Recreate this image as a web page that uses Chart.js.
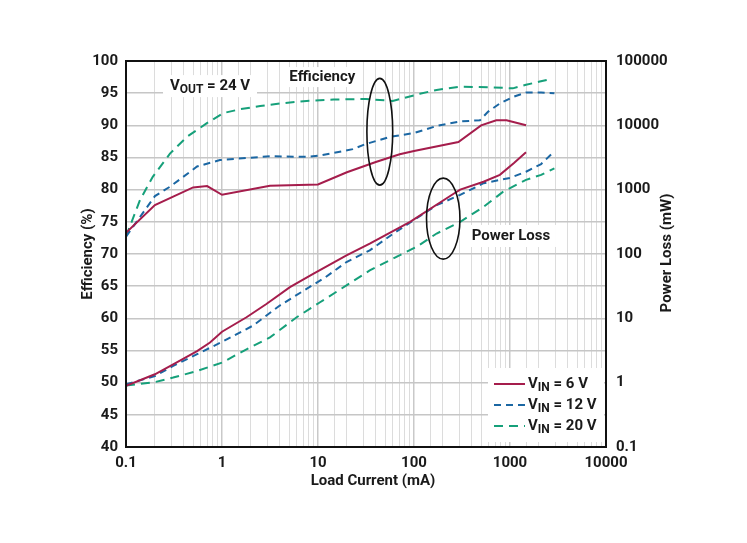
<!DOCTYPE html>
<html>
<head>
<meta charset="utf-8">
<script src="https://cdn.jsdelivr.net/npm/chart.js@4"></script>
<style>
html,body{margin:0;padding:0;background:#fff;}
#wrap{width:747px;height:543px;}
</style>
</head>
<body>
<div id="wrap"><canvas id="c" width="747" height="543"></canvas></div>
<script>
// ---- Data ----
const seriesNames = ['V_IN = 6 V', 'V_IN = 12 V', 'V_IN = 20 V'];
const xTickLabels = ['0.1', '1', '10', '100', '1000', '10000'];
const yTickLabels = ['40','45','50','55','60','65','70','75','80','85','90','95','100'];
const y2TickLabels = ['0.1','1','10','100','1000','10000','100000'];

// Efficiency (%)
const effLoad6 = [0.1, 0.2, 0.5, 0.7, 1, 3.16, 10, 20, 40, 71, 100, 290, 500, 720, 920, 1470];
const eff6 = [73.3, 77.6, 80.35, 80.55, 79.2, 80.6, 80.8, 82.7, 84.3, 85.5, 86.0, 87.4, 90.0, 90.8, 90.8, 90.0];
const effLoad12 = [0.1, 0.2, 0.29, 0.55, 0.95, 3.16, 7.6, 10.5, 23, 31.6, 56, 100, 172, 303, 487, 589, 784, 1068, 1468, 2110, 2900];
const eff12 = [72.7, 79.0, 80.5, 83.6, 84.6, 85.2, 85.1, 85.3, 86.3, 87.1, 88.2, 88.8, 89.9, 90.6, 90.8, 92.1, 93.4, 94.4, 95.1, 95.1, 95.0];
const effLoad20 = [0.1, 0.14, 0.19, 0.287, 0.43, 0.69, 1.03, 1.54, 2.5, 4, 7.6, 14.5, 31.6, 60, 115, 172, 303, 670, 1070, 1468, 2040, 2640];
const eff20 = [72.7, 78.4, 82.0, 85.6, 88.2, 90.3, 91.9, 92.5, 93.0, 93.4, 93.8, 94.0, 94.1, 93.8, 94.9, 95.5, 96.0, 95.9, 95.75, 96.3, 96.8, 97.2];

// Power loss (mW)
const lossLoad6 = [0.1, 0.2, 0.31, 0.55, 0.75, 1.0, 1.8, 2.9, 5.1, 8.9, 19.8, 34.6, 91, 261, 303, 530, 784, 1100, 1468];
const loss6 = [0.89, 1.35, 1.93, 3.1, 4.2, 6.2, 10.4, 16.7, 30.5, 49, 95, 145, 316, 872, 1000, 1330, 1700, 2600, 3800];
const lossLoad12 = [0.1, 0.2, 0.31, 0.55, 1.0, 2.1, 4.0, 7.6, 12, 19.8, 34.6, 61, 172, 303, 530, 1000, 1468, 2110, 2900];
const loss12 = [0.94, 1.27, 1.82, 2.77, 4.3, 7.7, 15.8, 28.7, 43.7, 75, 114, 208, 575, 830, 1260, 1520, 1900, 2500, 3950];
const lossLoad20 = [0.1, 0.2, 0.31, 0.55, 1.0, 1.8, 3.16, 6.0, 10.5, 19.8, 34.6, 107, 172, 303, 530, 850, 1468, 2110, 2900];
const loss20 = [0.9, 1.02, 1.2, 1.52, 2.05, 3.3, 5.05, 10.4, 17.8, 32.5, 55.6, 130, 208, 316, 540, 930, 1420, 1700, 2150];

// ---- Styles ----
const RED = '#a51d4c', BLUE = '#1b67a3', GREEN = '#16a07a';
const FONT = 'Roboto, "Noto Sans", sans-serif';
const W = 'bold';
const DASH12 = [7, 5], DASH20 = [9, 6];

function pts(xs, ys) { return xs.map((x, i) => ({ x: x, y: ys[i] })); }
function isDecade(v) { const l = Math.log10(v); return Math.abs(l - Math.round(l)) < 1e-6; }
function fmt(v) { return v < 1 ? v.toFixed(1) : String(Math.round(v)); }

function ds(label, data, color, dash, axis) {
  return { label, data, borderColor: color, backgroundColor: color, borderWidth: 2,
    borderDash: dash, pointRadius: 0, tension: 0, yAxisID: axis, fill: false };
}

const datasets = [
  ds(seriesNames[0], pts(effLoad6, eff6), RED, [], 'y'),
  ds(seriesNames[1], pts(effLoad12, eff12), BLUE, DASH12, 'y'),
  ds(seriesNames[2], pts(effLoad20, eff20), GREEN, DASH20, 'y'),
  ds(seriesNames[0] + ' loss', pts(lossLoad6, loss6), RED, [], 'y2'),
  ds(seriesNames[1] + ' loss', pts(lossLoad12, loss12), BLUE, DASH12, 'y2'),
  ds(seriesNames[2] + ' loss', pts(lossLoad20, loss20), GREEN, DASH20, 'y2')
];

// Annotations (positioned in data coordinates)
const annotations = {
  vout: { x: 0.75, y: 96.1 },
  effLabel: { x: 11.1, y: 97.5, text: 'Efficiency' },
  lossLabel: { x: 1023, y: 72.8, text: 'Power Loss' },
  ellipse1: { x0: 32.3, x1: 60, y0: 80.7, y1: 97.3 },
  ellipse2: { x0: 135, x1: 301, y0: 69.2, y1: 81.8 }
};

function drawSubText(ctx, x, y, base, sub, rest, size, align) {
  const big = W + ' ' + size + 'px ' + FONT;
  const small = W + ' ' + Math.round(size * 0.78) + 'px ' + FONT;
  ctx.font = big;
  const w1 = ctx.measureText(base).width;
  ctx.font = small;
  const w2 = ctx.measureText(sub).width;
  ctx.font = big;
  const w3 = ctx.measureText(rest).width;
  const total = w1 + w2 + w3;
  const left = align === 'center' ? x - total / 2 : x;
  ctx.textAlign = 'left';
  ctx.textBaseline = 'middle';
  ctx.fillText(base, left, y);
  ctx.font = small;
  ctx.fillText(sub, left + w1, y + size * 0.28);
  ctx.font = big;
  ctx.fillText(rest, left + w1 + w2, y);
  return total;
}

const decorPlugin = {
  id: 'decor',
  beforeDatasetsDraw(chart) {
    const ctx = chart.ctx, xs = chart.scales.x, ys = chart.scales.y, a = chart.chartArea;
    ctx.save();
    ctx.fillStyle = '#fff';
    const vx = xs.getPixelForValue(annotations.vout.x), vy = ys.getPixelForValue(annotations.vout.y);
    ctx.fillRect(vx - 47, vy - 11, 94, 22);
    const ex = xs.getPixelForValue(annotations.effLabel.x), ey = ys.getPixelForValue(annotations.effLabel.y);
    ctx.fillRect(ex - 40, ey - 10, 80, 20);
    const px = xs.getPixelForValue(annotations.lossLabel.x), py = ys.getPixelForValue(annotations.lossLabel.y);
    ctx.fillRect(px - 45, py - 11, 90, 22);
    const lx = a.right - 118, ly = a.bottom - 79;
    ctx.fillRect(lx, ly, 116, 74);

    ctx.fillStyle = '#1a1a1a';
    drawSubText(ctx, vx, vy, 'V', 'OUT', ' = 24 V', 15, 'center');
    ctx.font = 'bold 15px ' + FONT;
    ctx.textAlign = 'center'; ctx.textBaseline = 'middle';
    ctx.fillText(annotations.effLabel.text, ex, ey);
    ctx.fillText(annotations.lossLabel.text, px, py);

    const cols = [RED, BLUE, GREEN], dashes = [[], DASH12, DASH20];
    const labels = [' = 6 V', ' = 12 V', ' = 20 V'];
    for (let i = 0; i < 3; i++) {
      const yy = ly + 16 + i * 21;
      ctx.strokeStyle = cols[i]; ctx.lineWidth = 2; ctx.setLineDash(dashes[i]);
      ctx.beginPath(); ctx.moveTo(lx + 6, yy); ctx.lineTo(lx + 37, yy); ctx.stroke();
      ctx.setLineDash([]);
      ctx.fillStyle = '#1a1a1a';
      drawSubText(ctx, lx + 40, yy, 'V', 'IN', labels[i], 15, 'left');
    }
    ctx.restore();
  },
  afterDatasetsDraw(chart) {
    const ctx = chart.ctx, xs = chart.scales.x, ys = chart.scales.y, a = chart.chartArea;
    ctx.save();
    ctx.strokeStyle = '#111'; ctx.lineWidth = 1.6; ctx.setLineDash([]);
    [annotations.ellipse1, annotations.ellipse2].forEach(e => {
      const x0 = xs.getPixelForValue(e.x0), x1 = xs.getPixelForValue(e.x1);
      const y0 = ys.getPixelForValue(e.y1), y1 = ys.getPixelForValue(e.y0);
      ctx.beginPath();
      ctx.ellipse((x0 + x1) / 2, (y0 + y1) / 2, (x1 - x0) / 2, (y1 - y0) / 2, 0, 0, Math.PI * 2);
      ctx.stroke();
    });
    ctx.strokeStyle = '#111'; ctx.lineWidth = 2;
    ctx.strokeRect(a.left, a.top, a.right - a.left, a.bottom - a.top);
    ctx.fillStyle = '#1a1a1a';
    ctx.font = W + ' 15px ' + FONT;
    ctx.textAlign = 'center'; ctx.textBaseline = 'middle';
    ctx.fillText('Load Current (mA)', (a.left + a.right) / 2 + 7, a.bottom + 34);
    ctx.save();
    ctx.translate(a.left - 38, (a.top + a.bottom) / 2);
    ctx.rotate(-Math.PI / 2);
    ctx.fillText('Efficiency (%)', 0, 0);
    ctx.restore();
    ctx.save();
    ctx.translate(a.right + 61, (a.top + a.bottom) / 2 - 1);
    ctx.rotate(-Math.PI / 2);
    ctx.fillText('Power Loss (mW)', 0, 0);
    ctx.restore();
    ctx.restore();
  }
};

const tickFont = { family: FONT, size: 15, weight: W };

new Chart(document.getElementById('c'), {
  type: 'line',
  data: { datasets },
  plugins: [decorPlugin],
  options: {
    responsive: false,
    animation: false,
    devicePixelRatio: 1,
    layout: { padding: { top: 61, left: 0, right: 0, bottom: 0 } },
    plugins: { legend: { display: false }, tooltip: { enabled: false } },
    scales: {
      x: {
        type: 'logarithmic', min: 0.1, max: 10000, position: 'bottom',
        afterFit(s) { s.height = 96; },
        border: { display: false },
        grid: {
          drawTicks: false,
          color: c => (c.tick && isDecade(c.tick.value)) ? '#c9c9c9' : '#dcdcdc',
          lineWidth: c => (c.tick && isDecade(c.tick.value)) ? 1.5 : 1
        },
        ticks: {
          autoSkip: false, maxRotation: 0, padding: 7, color: '#1a1a1a', font: tickFont,
          callback: v => isDecade(v) && xTickLabels.includes(fmt(v)) ? fmt(v) : ''
        }
      },
      y: {
        type: 'linear', min: 40, max: 100, position: 'left',
        afterFit(s) { s.width = 126; },
        border: { display: false },
        grid: { drawTicks: false, color: '#c6c6c6', lineWidth: 1.5 },
        ticks: {
          stepSize: 5, padding: 8, color: '#1a1a1a', font: tickFont,
          callback: v => yTickLabels.includes(String(v)) ? String(v) : ''
        }
      },
      y2: {
        type: 'logarithmic', min: 0.1, max: 100000, position: 'right',
        afterFit(s) { s.width = 141; },
        border: { display: false },
        grid: { drawOnChartArea: false, drawTicks: false },
        ticks: {
          autoSkip: false, padding: 10, color: '#1a1a1a', font: tickFont,
          callback: v => isDecade(v) && y2TickLabels.includes(fmt(v)) ? fmt(v) : ''
        }
      }
    }
  }
});
</script>
</body>
</html>
